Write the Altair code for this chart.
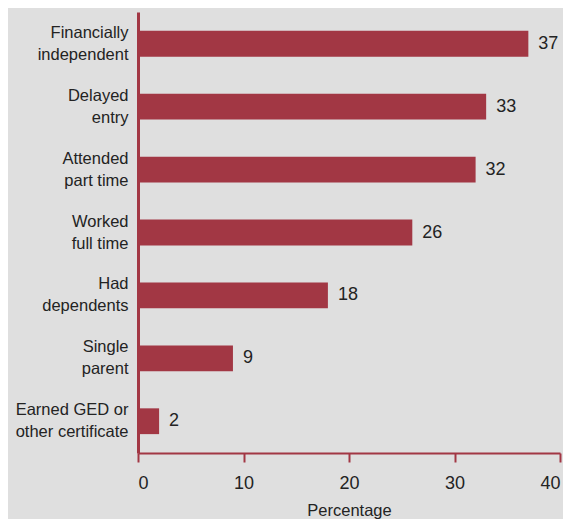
import altair as alt
import pandas as pd

categories = [
    "Financially|independent",
    "Delayed|entry",
    "Attended|part time",
    "Worked|full time",
    "Had|dependents",
    "Single|parent",
    "Earned GED or|other certificate",
]
values = [37, 33, 32, 26, 18, 9, 2]

df = pd.DataFrame({"cat": categories, "val": values})

RED = "#A23744"
TXT = "#232323"
FONT = "Liberation Sans"

y = alt.Y(
    "cat:N",
    sort=categories,
    title=None,
    scale=alt.Scale(paddingInner=0.59, paddingOuter=0.3),
    axis=alt.Axis(
        labelExpr="split(datum.label, '|')",
        labelFont=FONT,
        labelFontSize=16.5,
        labelColor=TXT,
        labelPadding=10,
        labelLineHeight=22,
        labelOffset=-11,
        ticks=False,
        domainColor=RED,
        domainWidth=3,
        labelLimit=200,
    ),
)
x = alt.X(
    "val:Q",
    title="Percentage",
    scale=alt.Scale(domain=[0, 40]),
    axis=alt.Axis(
        values=[0, 10, 20, 30, 40],
        grid=False,
        domainColor=RED,
        domainWidth=2,
        tickColor=RED,
        tickWidth=2,
        tickSize=9,
        labelFont=FONT,
        labelFontSize=18,
        labelColor=TXT,
        labelPadding=12,
        titleFont=FONT,
        titleFontSize=16.5,
        titleFontWeight="normal",
        titleColor=TXT,
        titlePadding=10,
    ),
)

bars = alt.Chart(df).mark_bar(color=RED).encode(x=x, y=y)
labels = alt.Chart(df).mark_text(
    align="left", baseline="middle", dx=10, font=FONT, fontSize=18, color=TXT
).encode(x="val:Q", y=alt.Y("cat:N", sort=categories), text="val:Q")

chart = (
    (bars + labels)
    .properties(
        width=422,
        height=441,
        background="#DFDFDF",
        autosize=alt.AutoSizeParams(type="none"),
        padding={"left": 130, "top": 4, "right": 3, "bottom": 80},
    )
    .configure_view(stroke=None)
)

chart.save("out.html", embed_options={"renderer": "svg", "actions": False})
